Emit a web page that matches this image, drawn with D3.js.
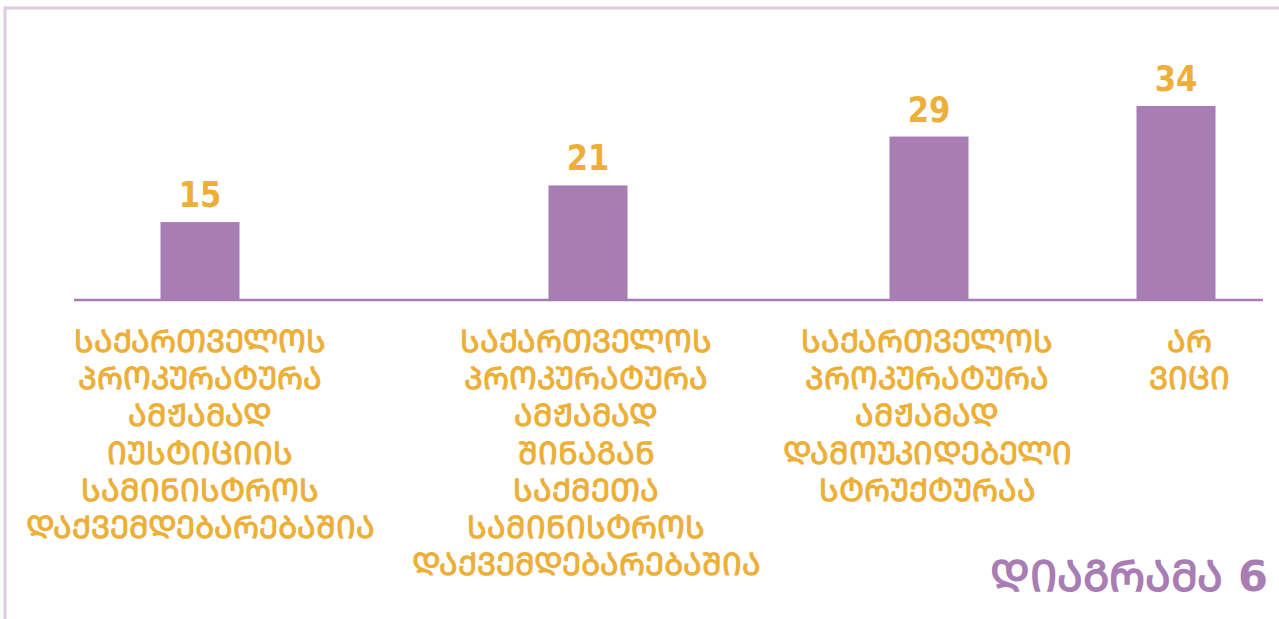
<!DOCTYPE html>
<html>
<head>
<meta charset="utf-8">
<script src="https://cdn.jsdelivr.net/npm/d3@7"></script>
<style>
  body { margin: 0; background: #fff; }
  svg { display: block; }
  .val { font-family: "DejaVu Sans", sans-serif; font-weight: bold; }
  .cat, .title { font-family: "DejaVu Sans", sans-serif; font-weight: bold; }
</style>
</head>
<body>
<div id="chart"></div>
<script>
// chart data
var categories = ['prosecutorMinistry', 'prosecutorInternal', 'prosecutorIndependent', 'dontKnow']
var values = [15, 21, 29, 34]
var categoryLines = [
  ['ᲡᲐᲥᲐᲠᲗᲕᲔᲚᲝᲡ', 'ᲞᲠᲝᲙᲣᲠᲐᲢᲣᲠᲐ', 'ᲐᲛᲟᲐᲛᲐᲓ', 'ᲘᲣᲡᲢᲘᲪᲘᲘᲡ', 'ᲡᲐᲛᲘᲜᲘᲡᲢᲠᲝᲡ', 'ᲓᲐᲥᲕᲔᲛᲓᲔᲑᲐᲠᲔᲑᲐᲨᲘᲐ'],
  ['ᲡᲐᲥᲐᲠᲗᲕᲔᲚᲝᲡ', 'ᲞᲠᲝᲙᲣᲠᲐᲢᲣᲠᲐ', 'ᲐᲛᲟᲐᲛᲐᲓ', 'ᲨᲘᲜᲐᲒᲐᲜ', 'ᲡᲐᲥᲛᲔᲗᲐ', 'ᲡᲐᲛᲘᲜᲘᲡᲢᲠᲝᲡ', 'ᲓᲐᲥᲕᲔᲛᲓᲔᲑᲐᲠᲔᲑᲐᲨᲘᲐ'],
  ['ᲡᲐᲥᲐᲠᲗᲕᲔᲚᲝᲡ', 'ᲞᲠᲝᲙᲣᲠᲐᲢᲣᲠᲐ', 'ᲐᲛᲟᲐᲛᲐᲓ', 'ᲓᲐᲛᲝᲣᲙᲘᲓᲔᲑᲔᲚᲘ', 'ᲡᲢᲠᲣᲥᲢᲣᲠᲐᲐ'],
  ['ᲐᲠ', 'ᲕᲘᲪᲘ']
]
var chartTitle = 'ᲓᲘᲐᲒᲠᲐᲛᲐ 6'

// layout settings (bars are not evenly spaced in the original)
var chart = {}
chart.width = 1279
chart.height = 619
chart.baseY = 300
chart.topY = 106
chart.barWidth = 79
chart.centers = [200, 588, 929, 1176]
chart.labelCenters = [200, 586, 927, 1189]
chart.lineHeight = 37.2
chart.purple = '#a87db4'
chart.orange = '#ecb03a'
chart.frame = '#dccbe3'

var x = d3.scaleOrdinal().domain(categories).range(chart.centers)
var xLabel = d3.scaleOrdinal().domain(categories).range(chart.labelCenters)
// the original axis does not start at zero: the baseline sits a little above 0
var y = d3.scaleLinear().domain([2.25, 34]).range([chart.baseY, chart.topY])

var svg = d3.select('#chart')
  .append('svg')
  .attr('width', chart.width)
  .attr('height', chart.height)

// frame on the left and top
svg.append('path')
  .attr('d', 'M5,' + chart.height + 'V8H' + chart.width)
  .attr('fill', 'none')
  .attr('stroke', chart.frame)
  .attr('stroke-width', 3)

// bars
svg.append('g')
  .selectAll('rect')
  .data(values)
  .enter()
  .append('rect')
  .attr('x', function (d, i) { return x(categories[i]) - chart.barWidth / 2 })
  .attr('y', function (d) { return y(d) })
  .attr('width', chart.barWidth)
  .attr('height', function (d) { return chart.baseY - y(d) })
  .attr('fill', chart.purple)

// baseline
svg.append('line')
  .attr('x1', 74)
  .attr('x2', 1263)
  .attr('y1', chart.baseY)
  .attr('y2', chart.baseY)
  .attr('stroke', chart.purple)
  .attr('stroke-width', 2.5)

// value labels, squeezed a bit to look condensed
svg.append('g')
  .selectAll('text')
  .data(values)
  .enter()
  .append('text')
  .attr('class', 'val')
  .attr('transform', function (d, i) {
    return 'translate(' + x(categories[i]) + ',' + (y(d) - 15) + ') scale(0.85,1)'
  })
  .attr('text-anchor', 'middle')
  .attr('font-size', 36)
  .attr('fill', chart.orange)
  .text(function (d) { return d })

// category labels, one tspan per line
var labels = svg.append('g')
  .selectAll('text')
  .data(categoryLines)
  .enter()
  .append('text')
  .attr('class', 'cat')
  .attr('text-anchor', 'middle')
  .attr('font-size', 31)
  .attr('fill', chart.orange)

labels.selectAll('tspan')
  .data(function (d, i) { return d.map(function (t) { return { t: t, i: i } }) })
  .enter()
  .append('tspan')
  .attr('x', function (d) { return xLabel(categories[d.i]) })
  .attr('y', function (d, j) { return 352 + j * chart.lineHeight })
  .text(function (d) { return d.t })

// title bottom right
svg.append('text')
  .attr('class', 'title')
  .attr('x', 1268)
  .attr('y', 591)
  .attr('text-anchor', 'end')
  .attr('font-size', 43)
  .attr('fill', chart.purple)
  .text(chartTitle)
</script>
</body>
</html>
